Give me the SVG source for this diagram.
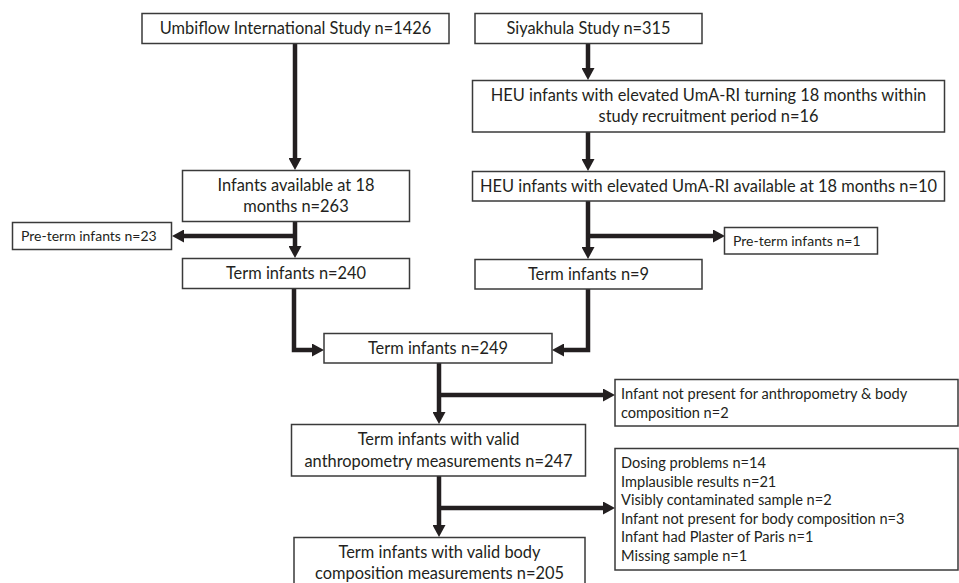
<svg xmlns="http://www.w3.org/2000/svg" width="959" height="583" viewBox="0 0 959 583">
<style>
.box{fill:#fff;stroke:#3a3a3a;stroke-width:1.5}
.t{font-family:Lato,"Liberation Sans",sans-serif;font-size:16.4px;fill:#231f20;text-anchor:middle}
.s{font-family:Lato,"Liberation Sans",sans-serif;font-size:14px;fill:#231f20}
.l{font-family:Lato,"Liberation Sans",sans-serif;font-size:14.6px;fill:#231f20}
.c{fill:none;stroke:#231f20;stroke-width:4.5;stroke-linejoin:miter}
</style>
<defs>
<marker id="ah" viewBox="0 0 12 13" refX="0" refY="6.5" markerWidth="12" markerHeight="13" markerUnits="userSpaceOnUse" orient="auto">
<path d="M0,0 L12,6.5 L0,13 z" fill="#231f20"/>
</marker>
</defs>
<rect width="959" height="583" fill="#fff"/>
<g id="connectors">
<path class="c" d="M295,43 V158" marker-end="url(#ah)"/>
<path class="c" d="M588,43 V68" marker-end="url(#ah)"/>
<path class="c" d="M588,132 V159" marker-end="url(#ah)"/>
<path class="c" d="M295,222 V246" marker-end="url(#ah)"/>
<path class="c" d="M297,236 H184" marker-end="url(#ah)"/>
<path class="c" d="M588,201 V247" marker-end="url(#ah)"/>
<path class="c" d="M586,236 H713" marker-end="url(#ah)"/>
<path class="c" d="M294,288 V350 H312" marker-end="url(#ah)"/>
<path class="c" d="M588,289 V350 H564" marker-end="url(#ah)"/>
<path class="c" d="M439,363 V412" marker-end="url(#ah)"/>
<path class="c" d="M437,395 H603" marker-end="url(#ah)"/>
<path class="c" d="M439,476 V525" marker-end="url(#ah)"/>
<path class="c" d="M437,508 H603" marker-end="url(#ah)"/>
</g>
<g id="umbiflow"><rect class="box" x="142" y="13.5" width="307" height="30"/><text class="t" x="295.5" y="34">Umbiflow International Study n=1426</text></g>
<g id="siyakhula"><rect class="box" x="475" y="13.5" width="227" height="30"/><text class="t" x="588.5" y="34">Siyakhula Study n=315</text></g>
<g id="heu-turning"><rect class="box" x="472.5" y="80.5" width="472" height="51.5"/><text class="t" x="708.5" y="101">HEU infants with elevated UmA-RI turning 18 months within</text><text class="t" x="708.5" y="122">study recruitment period n=16</text></g>
<g id="infants-available"><rect class="box" x="182.5" y="170.5" width="227" height="51"/><text class="t" x="296" y="191">Infants available at 18</text><text class="t" x="296" y="212">months n=263</text></g>
<g id="heu-available"><rect class="box" x="472.5" y="171.5" width="472" height="29.5"/><text class="t" x="708.5" y="192">HEU infants with elevated UmA-RI available at 18 months n=10</text></g>
<g id="preterm-23"><rect class="box" x="12.5" y="222.5" width="159" height="27"/><text class="s" x="21" y="241">Pre-term infants n=23</text></g>
<g id="preterm-1"><rect class="box" x="724.5" y="227.5" width="153" height="26.5"/><text class="s" x="733" y="246">Pre-term infants n=1</text></g>
<g id="term-240"><rect class="box" x="182.5" y="258.5" width="227" height="30"/><text class="t" x="296" y="279">Term infants n=240</text></g>
<g id="term-9"><rect class="box" x="475" y="259.5" width="227" height="29.5"/><text class="t" x="588.5" y="280">Term infants n=9</text></g>
<g id="term-249"><rect class="box" x="324" y="333.5" width="228" height="29.5"/><text class="t" x="438" y="354">Term infants n=249</text></g>
<g id="not-present"><rect class="box" x="615" y="379.5" width="343" height="46.5"/><text class="l" x="621" y="399">Infant not present for anthropometry &amp; body</text><text class="l" x="621" y="418">composition n=2</text></g>
<g id="term-247"><rect class="box" x="291.5" y="424.5" width="294" height="51.5"/><text class="t" x="438.5" y="445">Term infants with valid</text><text class="t" x="438.5" y="467">anthropometry measurements n=247</text></g>
<g id="exclusions"><rect class="box" x="615" y="448.5" width="343" height="121.5"/>
<text class="l" x="621" y="468">Dosing problems n=14</text>
<text class="l" x="621" y="487">Implausible results n=21</text>
<text class="l" x="621" y="505">Visibly contaminated sample n=2</text>
<text class="l" x="621" y="524">Infant not present for body composition n=3</text>
<text class="l" x="621" y="542">Infant had Plaster of Paris n=1</text>
<text class="l" x="621" y="561">Missing sample n=1</text></g>
<g id="term-205"><rect class="box" x="294" y="537.5" width="291" height="52"/><text class="t" x="439.5" y="558">Term infants with valid body</text><text class="t" x="439.5" y="579">composition measurements n=205</text></g>
</svg>
